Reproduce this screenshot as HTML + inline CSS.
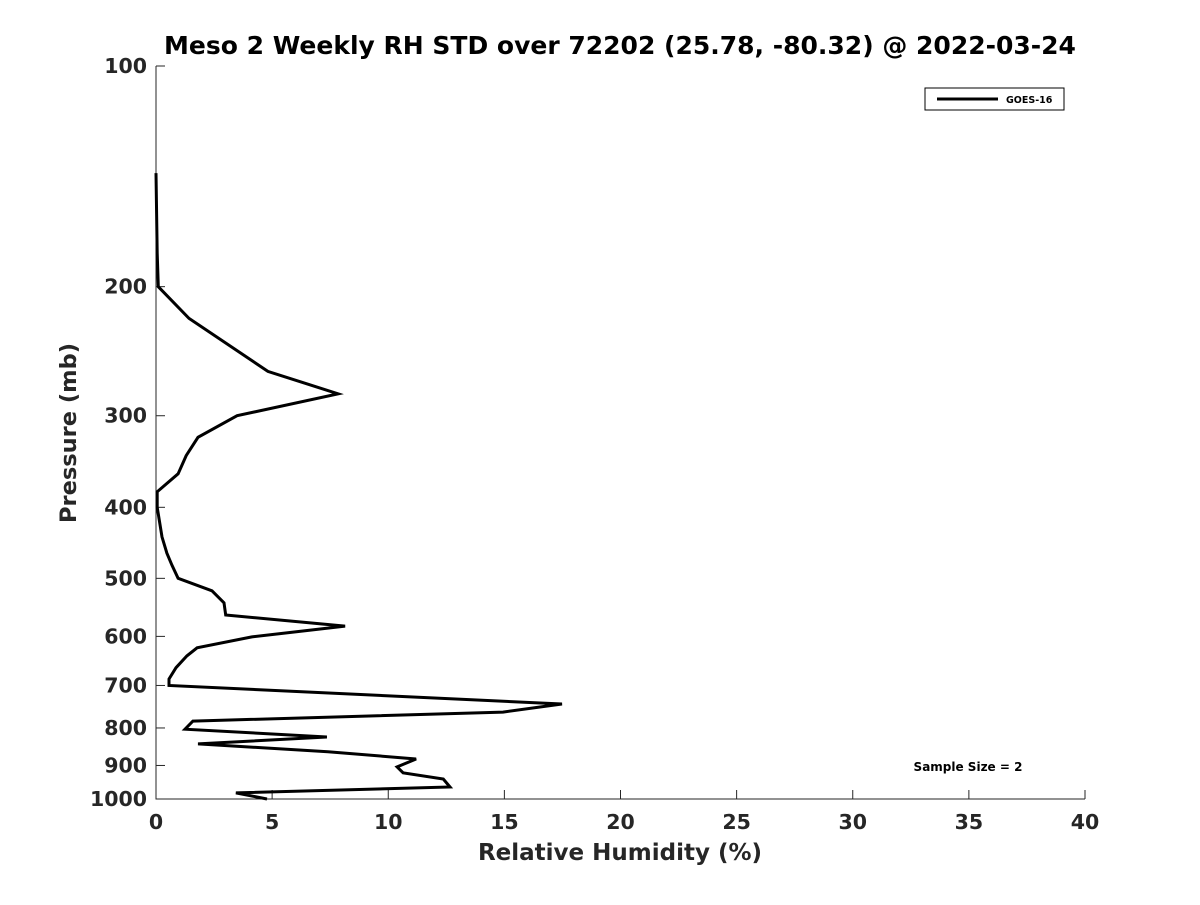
<!DOCTYPE html>
<html><head><meta charset="utf-8"><style>
body{margin:0;background:#fff}
svg text{font-family:"DejaVu Sans","Liberation Sans",sans-serif;font-weight:bold;fill:#262626}
</style></head><body>
<svg id="chart" width="1200" height="900">
<text x="620" y="54" text-anchor="middle" font-size="25" style="fill:#000">Meso 2 Weekly RH STD over 72202 (25.78, -80.32) @ 2022-03-24</text>
<g id="axes"></g>
<text x="620" y="860" text-anchor="middle" font-size="23">Relative Humidity (%)</text>
<text transform="translate(76,433) rotate(-90)" text-anchor="middle" font-size="22.5">Pressure (mb)</text>
<g>
<rect x="925" y="88" width="139" height="22" fill="#fff" stroke="#000" stroke-width="1"/>
<line x1="937" y1="99" x2="998" y2="99" stroke="#000" stroke-width="3"/>
<text x="1006" y="103" font-size="9.5" style="fill:#000">GOES-16</text>
</g>
<text x="968" y="771" text-anchor="middle" font-size="12" style="fill:#000">Sample Size = 2</text>
</svg>
<script>
const xTicks=[0,5,10,15,20,25,30,35,40];
const yTicks=[100,200,300,400,500,600,700,800,900,1000];
const rh=[0,0.05,0.1,1.42,4.82,7.84,3.49,1.81,1.3,0.95,0.05,0.05,0.26,0.47,0.69,0.95,2.41,2.93,3.0,8.14,4.13,1.77,1.33,0.86,0.56,0.56,17.48,14.94,1.59,1.25,7.36,1.81,7.4,11.2,10.38,10.64,12.37,12.66,3.44,4.78];
const pres=[140,180,200,221,261,280,300,321,340,360,381,400,439,462,480,500,520,540,561,581,601,622,638,662,686,700,742,761,783,803,823,841,862,882,904,921,939,963,981,1000];
const X0=156,X1=1085,Y0=66,Y1=799;
const xs=v=>X0+(v-0)/(40-0)*(X1-X0);
const ys=p=>Y0+(Math.log10(p)-2)/1*(Y1-Y0);
const NS="http://www.w3.org/2000/svg";
const g=document.getElementById('axes');
function mk(t,a){const e=document.createElementNS(NS,t);for(const k in a)e.setAttribute(k,a[k]);g.appendChild(e);return e;}
const ax=mk('path',{d:`M${X0},${Y0}V${Y1}H${X1}`,fill:'none',stroke:'#262626','stroke-width':1});


xTicks.forEach(v=>{const x=xs(v);
const l=mk('line',{x1:x,y1:Y1,x2:x,y2:Y1-9,stroke:'#262626'});


const t=mk('text',{x:x,y:Y1+30,'text-anchor':'middle','font-size':20.5});t.textContent=v;

});
yTicks.forEach(v=>{const y=ys(v);
const l=mk('line',{x1:X0,y1:y,x2:X0+9,y2:y,stroke:'#262626'});


const t=mk('text',{x:X0-9,y:y+7,'text-anchor':'end','font-size':20.5});t.textContent=v;

});
const d=rh.map((v,i)=>(i?'L':'M')+xs(v).toFixed(1)+','+ys(pres[i]).toFixed(1)).join('');
const line=mk('path',{d:d,fill:'none',stroke:'#000','stroke-width':3,'stroke-linejoin':'miter'});


</script>
</body></html>
